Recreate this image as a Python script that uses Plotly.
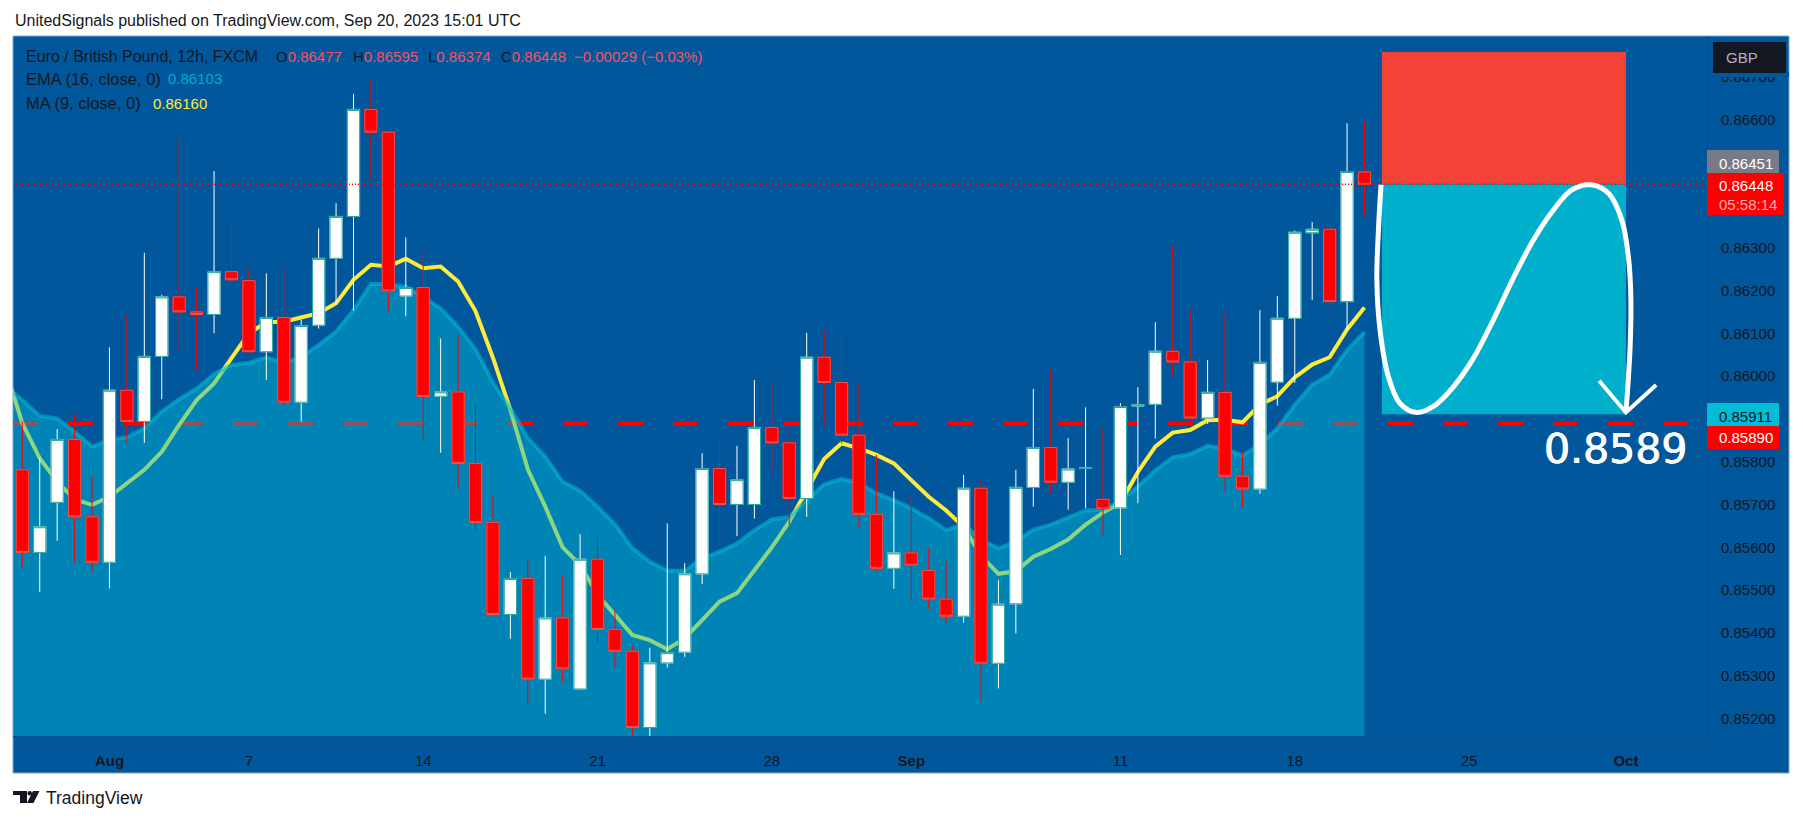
import plotly.graph_objects as go

# candles, one every 12h, index 0 = first bar on the chart
bars = list(range(78))
opens = [0.85781, 0.85588, 0.85705, 0.85852, 0.85671, 0.85565, 0.85967, 0.85894, 0.86046, 0.86185,
         0.86150, 0.86144, 0.86244, 0.86223, 0.86057, 0.86137, 0.85939, 0.86119, 0.86275, 0.86373,
         0.86623, 0.86570, 0.86187, 0.86207, 0.85953, 0.85963, 0.85796, 0.85658, 0.85443, 0.85527,
         0.85292, 0.85435, 0.85269, 0.85572, 0.85408, 0.85357, 0.85179, 0.85330, 0.85355, 0.85538,
         0.85784, 0.85700, 0.85700, 0.85880, 0.85844, 0.85714, 0.86044, 0.85985, 0.85862, 0.85677,
         0.85551, 0.85587, 0.85546, 0.85479, 0.85439, 0.85738, 0.85329, 0.85468, 0.85740, 0.85833,
         0.85752, 0.85784, 0.85712, 0.85692, 0.85930, 0.85934, 0.86058, 0.86033, 0.85902, 0.85962,
         0.85766, 0.85736, 0.85986, 0.86135, 0.86335, 0.86343, 0.86174, 0.86477]
highs = [0.85895, 0.85810, 0.85876, 0.85911, 0.85767, 0.86067, 0.86143, 0.86288, 0.86190, 0.86558,
         0.86205, 0.86479, 0.86365, 0.86252, 0.86240, 0.86256, 0.86131, 0.86345, 0.86404, 0.86659,
         0.86692, 0.86573, 0.86324, 0.86291, 0.86088, 0.86096, 0.85932, 0.85720, 0.85542, 0.85572,
         0.85580, 0.85533, 0.85631, 0.85623, 0.85454, 0.85371, 0.85365, 0.85656, 0.85563, 0.85820,
         0.85856, 0.85837, 0.85991, 0.85986, 0.85883, 0.86101, 0.86109, 0.86094, 0.85983, 0.85816,
         0.85731, 0.85721, 0.85598, 0.85566, 0.85769, 0.85757, 0.85524, 0.85781, 0.85970, 0.86014,
         0.85855, 0.85927, 0.85880, 0.85937, 0.85974, 0.86126, 0.86304, 0.86154, 0.86038, 0.86152,
         0.85825, 0.86154, 0.86187, 0.86340, 0.86360, 0.86369, 0.86591, 0.86595]
lows = [0.85555, 0.85496, 0.85615, 0.85564, 0.85541, 0.85504, 0.85844, 0.85844, 0.85946, 0.86063,
        0.86013, 0.86100, 0.86211, 0.86054, 0.85991, 0.85932, 0.85893, 0.86111, 0.86170, 0.86153,
        0.86458, 0.86153, 0.86140, 0.85853, 0.85821, 0.85739, 0.85636, 0.85443, 0.85386, 0.85234,
        0.85211, 0.85284, 0.85269, 0.85377, 0.85319, 0.85150, 0.85150, 0.85319, 0.85344, 0.85514,
        0.85603, 0.85626, 0.85667, 0.85778, 0.85652, 0.85671, 0.85883, 0.85843, 0.85646, 0.85545,
        0.85503, 0.85474, 0.85456, 0.85423, 0.85424, 0.85240, 0.85270, 0.85399, 0.85695, 0.85727,
        0.85688, 0.85691, 0.85629, 0.85582, 0.85703, 0.85854, 0.86001, 0.85888, 0.85888, 0.85729,
        0.85693, 0.85725, 0.85931, 0.85984, 0.86178, 0.86153, 0.86108, 0.86374]
closes = [0.85588, 0.85648, 0.85852, 0.85671, 0.85565, 0.85967, 0.85894, 0.86046, 0.86185, 0.86150,
          0.86144, 0.86244, 0.86225, 0.86057, 0.86137, 0.85939, 0.86118, 0.86275, 0.86373, 0.86623,
          0.86570, 0.86199, 0.86207, 0.85952, 0.85963, 0.85796, 0.85658, 0.85443, 0.85527, 0.85292,
          0.85435, 0.85316, 0.85572, 0.85408, 0.85357, 0.85179, 0.85330, 0.85354, 0.85538, 0.85784,
          0.85700, 0.85758, 0.85880, 0.85844, 0.85714, 0.86044, 0.85985, 0.85862, 0.85677, 0.85551,
          0.85587, 0.85558, 0.85479, 0.85439, 0.85738, 0.85329, 0.85467, 0.85740, 0.85833, 0.85752,
          0.85783, 0.85785, 0.85690, 0.85929, 0.85933, 0.86058, 0.86033, 0.85902, 0.85962, 0.85766,
          0.85736, 0.86032, 0.86135, 0.86336, 0.86343, 0.86174, 0.86478, 0.86448]

# the indicators start one bar left of the first visible candle
line_bars = list(range(-1, 78))
ma9 = [0.86019, 0.85890, 0.85808, 0.85753, 0.85712, 0.85699, 0.85718, 0.85750, 0.85781, 0.85823,
       0.85886, 0.85944, 0.85983, 0.86042, 0.86100, 0.86126, 0.86127, 0.86137, 0.86147, 0.86170,
       0.86225, 0.86260, 0.86256, 0.86274, 0.86252, 0.86256, 0.86221, 0.86152, 0.86043, 0.85921,
       0.85782, 0.85695, 0.85600, 0.85559, 0.85489, 0.85442, 0.85395, 0.85383, 0.85362, 0.85387,
       0.85430, 0.85473, 0.85493, 0.85545, 0.85600, 0.85660, 0.85734, 0.85806, 0.85843, 0.85831,
       0.85816, 0.85796, 0.85757, 0.85718, 0.85686, 0.85648, 0.85580, 0.85538, 0.85544, 0.85578,
       0.85596, 0.85618, 0.85653, 0.85681, 0.85704, 0.85776, 0.85835, 0.85868, 0.85874, 0.85897,
       0.85898, 0.85892, 0.85933, 0.85953, 0.85997, 0.86027, 0.86044, 0.86109, 0.86160]
ema16 = [0.85977, 0.85944, 0.85907, 0.85901, 0.85870, 0.85835, 0.85851, 0.85857, 0.85878, 0.85917,
         0.85946, 0.85971, 0.86005, 0.86026, 0.86031, 0.86044, 0.86031, 0.86045, 0.86073, 0.86104,
         0.86154, 0.86215, 0.86215, 0.86209, 0.86185, 0.86158, 0.86115, 0.86063, 0.85985, 0.85925,
         0.85855, 0.85812, 0.85753, 0.85732, 0.85695, 0.85654, 0.85598, 0.85566, 0.85545, 0.85545,
         0.85574, 0.85590, 0.85609, 0.85640, 0.85665, 0.85671, 0.85710, 0.85747, 0.85760, 0.85750,
         0.85726, 0.85710, 0.85691, 0.85668, 0.85640, 0.85653, 0.85618, 0.85597, 0.85614, 0.85641,
         0.85653, 0.85669, 0.85686, 0.85688, 0.85708, 0.85742, 0.85780, 0.85810, 0.85818, 0.85837,
         0.85831, 0.85814, 0.85840, 0.85878, 0.85933, 0.85980, 0.86003, 0.86061, 0.86103]

tick_bars = [5, 13, 23, 33, 43, 51, 63, 73, 83, 92]
tick_labels = ["<b>Aug</b>", "7", "14", "21", "28", "<b>Sep</b>", "11", "18", "25", "<b>Oct</b>"]
price_ticks = [0.852, 0.853, 0.854, 0.855, 0.856, 0.857, 0.858, 0.859, 0.860, 0.861,
               0.862, 0.863, 0.864, 0.865, 0.866, 0.867]

level = 0.8589
last_price = 0.86448
stop_price = 0.86757
target_price = 0.85911
zone_bars = [78, 92]

# hand drawn brush and arrow head on top of the short position tool
brush_bars = [77.95, 77.80, 77.71, 77.89, 78.37, 79.04, 80.00, 80.95, 82.10, 83.25, 84.39,
              85.54, 86.69, 87.84, 88.89, 90.00, 91.00, 91.76, 92.14, 92.28, 92.24, 92.00]
brush_prices = [0.86447, 0.86341, 0.86225, 0.86108, 0.85999, 0.85936, 0.85915, 0.85929, 0.85975,
                0.86042, 0.86131, 0.86229, 0.86318, 0.86388, 0.86435, 0.86447, 0.86427, 0.86365,
                0.86279, 0.86186, 0.86069, 0.85915]
arrow_bars = [90.46, 92.00, 93.73]
arrow_prices = [0.85989, 0.85915, 0.85979]

BG = "#01579B"
TXT = "#131722"
FONT = "Liberation Sans"
x_range = [-0.534, 96.65]
y_range = [0.851591, 0.867946]


# layout positions are given in window pixels, the plot box is 13..1789 x 36..773
def px(x):
    return (x - 13) / 1776


def py(y):
    return (773 - y) / 737


def paper_rect(x0, y0, x1, y1, color, layer="above"):
    return dict(type="rect", xref="paper", yref="paper", x0=px(x0), x1=px(x1), y0=py(y0), y1=py(y1),
                fillcolor=color, line_width=0, layer=layer)


def label(text, x, y, color=TXT, size=15, anchor="left", family=FONT, shadow=None):
    font = dict(family=family, size=size, color=color)
    if shadow:
        font["shadow"] = shadow
    return dict(text=text, x=px(x), y=py(y), xref="paper", yref="paper", showarrow=False, xanchor=anchor,
                yanchor="middle", align="left", font=font)


fig = go.Figure()

# order matters: level and MA sit under the translucent EMA area
fig.add_trace(go.Scatter(x=x_range, y=[level, level], mode="lines",
                         line=dict(color="#ff0000", width=4, dash="25px,30px")))
fig.add_trace(go.Scatter(x=line_bars, y=ma9, mode="lines", line=dict(color="#ffeb3b", width=4)))
fig.add_trace(go.Scatter(x=line_bars, y=ema16, mode="lines", fill="tozeroy", fillcolor="rgba(0,188,212,0.45)",
                         line=dict(color="rgba(0,188,212,0.55)", width=4)))

# plotly puts boxes under scatters, so candles go on an overlaying pair of axes
# wicks first (white / red), then bodies only with their own border colour
fig.add_trace(go.Candlestick(x=bars, open=opens, high=highs, low=lows, close=closes, xaxis="x2", yaxis="y2",
                             increasing=dict(line=dict(color="#ffffff", width=1), fillcolor="#ffffff"),
                             decreasing=dict(line=dict(color="#ff0000", width=1), fillcolor="#ff0000")))
body_top = [max(a, b) for a, b in zip(opens, closes)]
body_bot = [min(a, b) for a, b in zip(opens, closes)]
fig.add_trace(go.Candlestick(x=bars, open=opens, high=body_top, low=body_bot, close=closes, xaxis="x2", yaxis="y2",
                             increasing=dict(line=dict(color="#26a69a", width=1), fillcolor="#ffffff"),
                             decreasing=dict(line=dict(color="#ef5350", width=1), fillcolor="#ff0000")))

fig.add_trace(go.Scatter(x=x_range, y=[last_price, last_price], mode="lines", xaxis="x2", yaxis="y2",
                         line=dict(color="#ff0000", width=1.5, dash="1px,2px")))
fig.add_trace(go.Scatter(x=brush_bars, y=brush_prices, mode="lines", xaxis="x2", yaxis="y2",
                         line=dict(color="#ffffff", width=5, shape="spline", smoothing=1)))
fig.add_trace(go.Scatter(x=arrow_bars, y=arrow_prices, mode="lines", xaxis="x2", yaxis="y2",
                         line=dict(color="#ffffff", width=4)))

shapes = [
    dict(type="rect", xref="paper", yref="paper", x0=0, x1=1, y0=0, y1=1, fillcolor=BG,
         line=dict(color="#7ba6cf", width=1), layer="below"),
    dict(type="rect", xref="x", yref="y", x0=zone_bars[0], x1=zone_bars[1], y0=last_price, y1=stop_price,
         fillcolor="#f44336", line_width=0, layer="below"),
    dict(type="rect", xref="x", yref="y", x0=zone_bars[0], x1=zone_bars[1], y0=target_price, y1=last_price,
         fillcolor="#00AFCC", line_width=0, layer="below"),
    # price scale badges
    paper_rect(1708, 72, 1789, 77, BG),
    paper_rect(1713, 42, 1786, 73, TXT),
    paper_rect(1707, 150, 1779, 173, "#787b86"),
    paper_rect(1707, 173, 1784, 215, "#ff0000"),
    paper_rect(1707, 403, 1779, 426, "#00bcd4"),
    paper_rect(1707, 426, 1779, 449, "#ff0000"),
    # TradingView mark
    paper_rect(13, 791, 27, 795, TXT),
    paper_rect(20, 791, 27, 803, TXT),
    dict(type="circle", xref="paper", yref="paper", x0=px(27.5), x1=px(32), y0=py(791), y1=py(795.5),
         fillcolor=TXT, line_width=0),
    dict(type="path", xref="paper", yref="paper", fillcolor=TXT, line_width=0,
         path=f"M {px(33)} {py(791)} L {px(39.5)} {py(791)} L {px(33.5)} {py(803)} L {px(27)} {py(803)} Z"),
]

red = "#f7525f"
annotations = [
    label("UnitedSignals published on TradingView.com, Sep 20, 2023 15:01 UTC", 13, 20, size=16),
    label("Euro / British Pound, 12h, FXCM", 24, 57, size=16),
    label(f'O<span style="color:{red}">0.86477</span>', 274, 57),
    label(f'H<span style="color:{red}">0.86595</span>', 351, 57),
    label(f'L<span style="color:{red}">0.86374</span>', 426, 57),
    label(f'C<span style="color:{red}">0.86448</span>', 499, 57),
    label("−0.00029 (−0.03%)", 572, 57, color=red),
    label("EMA (16, close, 0)", 24, 79, size=16.5),
    label("0.86103", 166, 79, color="#00acc9"),
    label("MA (9, close, 0)", 24, 103, size=16.5),
    label("0.86160", 151, 103, color="#ffeb3b"),
    label("GBP", 1724, 58, color="#b2b5be"),
    label("0.86451", 1717, 163, color="#ffffff"),
    label("0.86448", 1717, 186, color="#ffffff"),
    label("05:58:14", 1717, 205, color="#ffb3b3"),
    label("0.85911", 1717, 416),
    label("0.85890", 1717, 438, color="#ffffff"),
    label("0.8589", 1689, 449, color="#ffffff", size=41, anchor="right", family="DejaVu Sans",
          shadow="0.4px 0 0 #ffffff, -0.4px 0 0 #ffffff"),
    label("TradingView", 43.5, 798, size=17.5),
]

fig.update_layout(
    width=1803, height=821, showlegend=False, hovermode=False,
    paper_bgcolor="#ffffff", plot_bgcolor="rgba(0,0,0,0)",
    margin=dict(l=13, r=14, t=36, b=48, pad=0),
    boxmode="overlay", boxgap=0, boxgroupgap=0.3,
    shapes=shapes, annotations=annotations,
    font=dict(family=FONT, size=15, color=TXT),
    xaxis=dict(domain=[0, px(1707)], range=x_range, rangeslider_visible=False, showgrid=False, zeroline=False,
               tickmode="array", tickvals=tick_bars, ticktext=tick_labels, ticks="", ticklabelstandoff=11,
               showline=True, linecolor="#02508f", linewidth=1, tickfont=dict(size=15, color=TXT)),
    yaxis=dict(domain=[py(736), 1], range=y_range, side="right", showgrid=False, zeroline=False,
               tickmode="array", tickvals=price_ticks, tickformat=".5f", ticks="", ticklabelstandoff=10,
               showline=True, linecolor="#02508f", linewidth=1, tickfont=dict(size=15, color=TXT)),
    xaxis2=dict(domain=[0, px(1707)], range=x_range, overlaying="x", anchor="y2", visible=False,
                rangeslider_visible=False, showgrid=False, zeroline=False),
    yaxis2=dict(domain=[py(736), 1], range=y_range, overlaying="y", anchor="x2", side="right", visible=False,
                showgrid=False, zeroline=False),
)

# the page has a default 8px body margin, the reference starts at the window corner
fig.write_html("out.html", config=dict(displayModeBar=False), post_script="document.body.style.margin='0';")
